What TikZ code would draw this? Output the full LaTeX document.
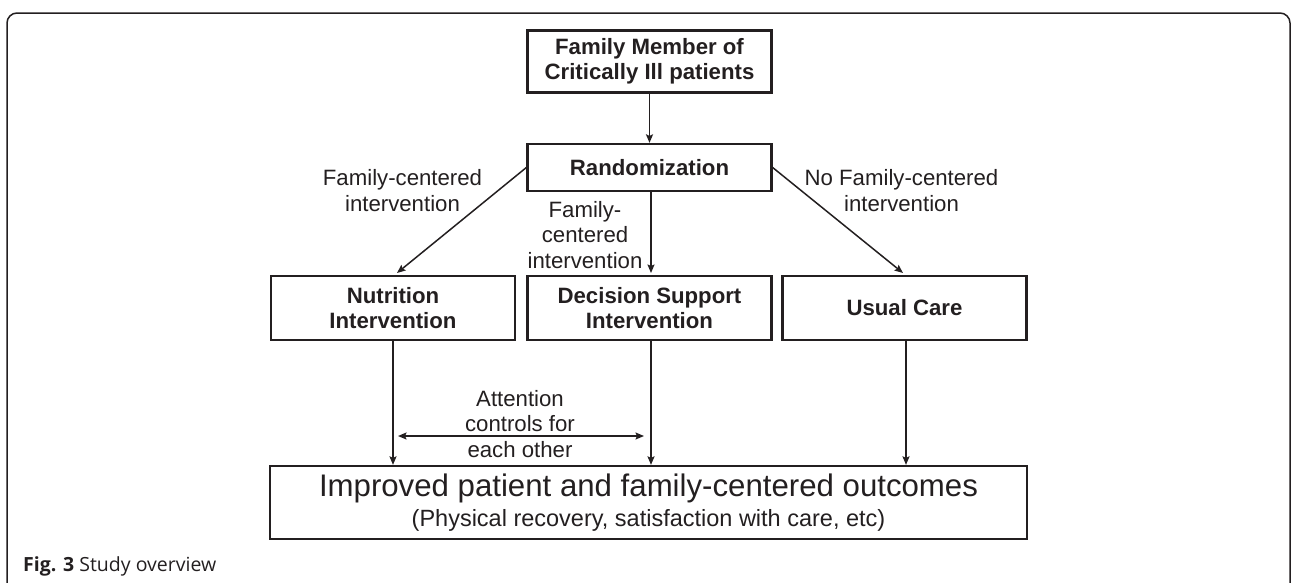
\documentclass[tikz,border=0pt]{standalone}
\usepackage{fontspec}
\setmainfont{Liberation Sans}
\newfontfamily\capfont{Open Sans}
\usetikzlibrary{arrows.meta}
\definecolor{ink}{HTML}{231F20}
\begin{document}
\begin{tikzpicture}[x=1pt,y=-1pt,
  box/.style={draw=ink,line width=2.3pt,inner sep=0pt,align=center,
    font=\fontsize{22.2}{25}\selectfont\bfseries,text=ink,minimum width=244pt},
  lbl/.style={align=center,inner sep=0pt,font=\fontsize{22.2}{25.8}\selectfont,text=ink},
  arr/.style={draw=ink,line width=1.5pt,-{Stealth[length=8.5pt,width=7pt,inset=1.5pt]}},
  dbl/.style={draw=ink,line width=1.5pt,{Stealth[length=8.5pt,width=7pt,inset=1.5pt]}-{Stealth[length=8.5pt,width=7pt,inset=1.5pt]}}]
\useasboundingbox (0,0) rectangle (1292,582);
\clip (0,0) rectangle (1292,582);
% outer frame
\draw[ink,line width=1.5pt,rounded corners=10pt] (7,620) -- (7,13) -- (1290,13) -- (1290,620);
% boxes
\node[box,minimum height=62pt] (top) at (649.5,61.5) {Family Member of\\Critically Ill patients};
\node[box,minimum height=47pt] (rand) at (649.5,167.5) {Randomization};
\node[box,minimum height=64pt] (nut) at (393,308) {Nutrition\\Intervention};
\node[box,minimum height=64pt] (dec) at (649.5,308) {Decision Support\\Intervention};
\node[box,minimum height=64pt] (usual) at (904.5,308) {Usual Care};
\node[box,minimum width=757pt,minimum height=73pt,font=\mdseries] (out) at (648.5,502.5)
  {\fontsize{31.2}{33}\selectfont Improved patient and family-centered outcomes\\[6pt]
   \fontsize{23.5}{26}\selectfont (Physical recovery, satisfaction with care, etc)};
% labels
\node[lbl] (l1) at (402.5,190.5) {Family-centered\\intervention};
\node[lbl] (l2) at (585,235) {Family-\\centered\\intervention};
\node[lbl] (l3) at (901.5,190.5) {No Family-centered\\intervention};
\node[lbl] (l4) at (520,424) {Attention\\controls for\\each other};
% connectors
\coordinate (nutin) at (397,273);
\coordinate (usin) at (903,273);
\coordinate (decin) at (651,273);
\coordinate (al) at (398,436);
\coordinate (ar) at (644,436);
\draw[arr] (top.south) -- (rand.north);
\draw[arr] (rand.west) -- (nutin);
\draw[arr] (rand.east) -- (usin);
\draw[arr] (rand.south -| decin) -- (decin);
\draw[arr] (nut.south) -- (nut.south |- out.north);
\draw[arr] (dec.south -| decin) -- (decin |- out.north);
\draw[arr] (usual.south -| 906,0) -- (906,0 |- out.north);
\draw[dbl] (al) -- (ar);
% caption
\node[anchor=base west,inner sep=0pt,font=\capfont\fontsize{19.5}{22}\selectfont,text=ink] (cap) at (23,571)
  {\textbf{Fig. 3} Study overview};
\end{tikzpicture}
\end{document}
